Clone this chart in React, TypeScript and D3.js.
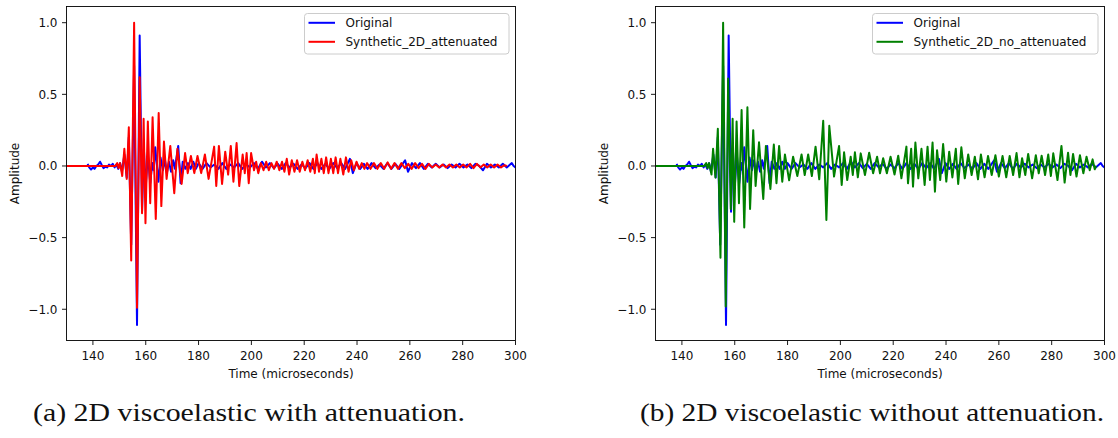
import React from "react";
import * as d3 from "d3";

// ---------- data (time in microseconds, normalized amplitude) ----------
const xTicks = [140, 160, 180, 200, 220, 240, 260, 280, 300];
const yTicks = [-1.0, -0.5, 0.0, 0.5, 1.0];
const yTickLabels = ["\u22121.0", "\u22120.5", "0.0", "0.5", "1.0"];

const original: [number, number][] = [
  [138.0, 0.015], [138.6, -0.01], [139.3, -0.025], [140.0, -0.01], [140.6, -0.02], [141.3, 0.0],
  [142.0, 0.01], [142.7, 0.03], [143.4, 0.005], [144.0, -0.015], [144.7, -0.005], [145.4, -0.01],
  [146.1, 0.01], [146.8, 0.0], [147.5, 0.015], [148.2, -0.01], [148.9, 0.01], [149.6, -0.02],
  [150.3, 0.02], [151.0, -0.04], [151.9, 0.08], [152.8, -0.08], [153.6, 0.2], [154.5, -0.55],
  [155.6, 0.7], [156.7, -1.11], [157.7, 0.91], [158.6, -0.32], [159.3, 0.12], [160.0, -0.15],
  [160.8, 0.08], [161.7, -0.12], [162.5, 0.02], [163.0, -0.03], [163.6, 0.13], [164.8, -0.11],
  [165.6, 0.06], [166.5, -0.03], [167.3, 0.04], [168.0, -0.05], [168.8, 0.03], [169.6, -0.04],
  [170.4, 0.04], [171.0, -0.02], [172.3, 0.14], [173.2, -0.12], [174.0, 0.03], [175.0, -0.02],
  [176.0, 0.02], [177.0, -0.02], [178.0, 0.03], [179.0, -0.02], [180.0, 0.02], [181.5, -0.02],
  [183.0, 0.02], [184.5, -0.01], [186.0, 0.01], [187.5, -0.02], [189.0, 0.02], [190.5, -0.02],
  [192.0, 0.01], [193.5, -0.01], [195.0, 0.02], [196.5, -0.02], [198.0, 0.01], [199.5, -0.01],
  [201.0, 0.02], [202.5, -0.02], [204.0, 0.03], [205.5, -0.01], [207.0, 0.02], [208.5, -0.015],
  [210.0, 0.015], [211.5, -0.02], [213.0, 0.02], [214.5, -0.01], [216.0, 0.015], [217.5, -0.02],
  [219.0, 0.01], [220.5, -0.015], [222.0, 0.02], [223.5, -0.02], [225.0, 0.02], [226.5, -0.02],
  [228.0, 0.015], [229.5, -0.02], [231.0, 0.02], [232.5, -0.015], [234.0, 0.02], [235.5, -0.02],
  [237.3, 0.05], [238.4, -0.05], [239.8, 0.02], [241.2, -0.02], [242.6, 0.015], [244.0, -0.02],
  [245.5, 0.02], [247.0, -0.015], [248.5, 0.01], [250.0, -0.02], [251.5, 0.02], [253.0, -0.02],
  [254.5, 0.015], [256.0, -0.02], [258.2, 0.04], [259.3, -0.04], [260.8, 0.02], [262.3, -0.015],
  [263.8, 0.02], [265.3, -0.02], [266.8, 0.015], [268.3, -0.01], [269.8, 0.015], [271.3, -0.01],
  [272.8, 0.01], [274.3, -0.015], [275.8, 0.01], [277.3, -0.01], [278.8, 0.015], [280.3, -0.01],
  [281.8, 0.01], [283.3, -0.015], [284.8, 0.015], [286.3, 0.0], [287.7, -0.03], [289.2, 0.015],
  [290.7, -0.01], [292.2, 0.01], [293.7, -0.01], [295.2, 0.015], [296.7, -0.01], [298.6, 0.02],
  [299.3, 0.0], [300.0, -0.01],
];

const synthAttenuated: [number, number][] = [
  [130.0, 0], [148.5, 0], [149.2, 0.02], [149.7, -0.015], [150.3, 0.02], [151.1, -0.07],
  [151.9, 0.12], [152.8, -0.09], [153.6, 0.27], [154.5, -0.66], [155.6, 1.0], [156.7, -0.99],
  [157.7, 0.62], [158.6, -0.33], [159.2, 0.33], [159.9, -0.40], [160.8, 0.31], [161.7, -0.26],
  [162.6, 0.34], [163.8, -0.37], [164.9, 0.37], [165.9, -0.28], [166.9, 0.17], [167.9, -0.09],
  [169.3, 0.14], [170.8, -0.19], [172.0, 0.12], [173.6, -0.125], [174.9, 0.09], [175.9, -0.05],
  [177.1, 0.07], [178.4, -0.05], [179.6, 0.07], [181.0, -0.05], [182.4, 0.08], [183.8, -0.09],
  [185.9, 0.135], [186.7, -0.14], [187.7, 0.14], [188.9, -0.125], [190.1, 0.10], [191.2, -0.06],
  [192.2, 0.14], [193.2, -0.11], [194.4, 0.16], [195.4, -0.14], [196.7, 0.08], [197.5, -0.05],
  [198.2, 0.09], [199.0, -0.12], [199.9, 0.09], [201.0, -0.03], [201.8, 0.03], [202.6, -0.05],
  [203.6, 0.02], [204.6, -0.03], [205.6, 0.03], [206.6, -0.03], [207.6, 0.02], [208.6, -0.02],
  [209.6, 0.03], [210.6, -0.03], [211.6, 0.03], [212.5, -0.04], [213.4, 0.05], [214.3, -0.06],
  [215.3, 0.04], [216.3, -0.04], [217.3, 0.04], [218.3, -0.04], [219.3, 0.03], [220.3, -0.03],
  [221.3, 0.04], [222.3, -0.04], [223.3, 0.05], [224.0, -0.05], [224.7, 0.08], [225.6, -0.04],
  [226.5, 0.05], [227.4, -0.05], [228.3, 0.06], [229.2, -0.05], [230.1, 0.05], [231.0, -0.05],
  [231.9, 0.06], [232.8, -0.05], [233.7, 0.05], [234.8, -0.06], [235.8, 0.06], [236.8, -0.04],
  [237.8, 0.04], [238.8, -0.03], [239.8, 0.03], [240.8, -0.02], [241.8, 0.02], [242.8, -0.02],
  [243.8, 0.02], [245.1, -0.02], [246.4, 0.02], [247.7, -0.02], [249.0, 0.02], [250.3, -0.02],
  [251.6, 0.025], [252.9, -0.02], [254.2, 0.02], [255.5, -0.02], [256.8, 0.02], [258.1, -0.015],
  [259.4, 0.015], [260.7, -0.02], [262.0, 0.02], [263.3, -0.015], [264.6, 0.015], [265.9, -0.02],
  [267.2, 0.015], [268.5, -0.01], [269.8, 0.01], [271.1, -0.01], [272.4, 0.01], [273.7, -0.01],
  [275.0, 0.01], [276.3, -0.01], [277.6, 0.01], [278.9, -0.01], [280.2, 0.01], [281.5, -0.01],
  [282.8, 0.015], [284.1, -0.015], [285.4, 0.015], [286.7, -0.01], [288.0, 0.01], [289.3, -0.01],
  [290.6, 0.01], [291.9, -0.01], [293.2, 0.01], [294.5, -0.01], [295.8, 0.005], [296.7, 0.0],
];

const synthNoAttenuated: [number, number][] = [
  [130.0, 0], [148.5, 0], [149.2, 0.02], [149.7, -0.015], [150.3, 0.02], [151.2, -0.06],
  [151.8, 0.12], [152.7, -0.08], [153.6, 0.26], [154.6, -0.64], [155.6, 1.0], [156.6, -0.98],
  [157.5, 0.61], [158.5, -0.30], [159.2, 0.33], [159.8, -0.39], [160.7, 0.31], [161.6, -0.26],
  [162.6, 0.39], [163.6, -0.43], [164.8, 0.41], [165.8, -0.30], [167.0, 0.25], [167.9, -0.14],
  [169.2, 0.165], [170.8, -0.23], [171.8, 0.14], [173.5, -0.16], [174.8, 0.15], [175.8, -0.12],
  [176.8, 0.14], [178.0, -0.11], [179.0, 0.08], [180.6, -0.10], [182.1, 0.065], [183.7, -0.07],
  [185.3, 0.08], [186.5, -0.063], [187.8, 0.08], [189.2, -0.07], [190.6, 0.135], [192.0, -0.093],
  [193.5, 0.316], [194.7, -0.377], [195.8, 0.28], [197.6, -0.074], [199.5, 0.14], [200.5, -0.132],
  [201.4, 0.095], [202.6, -0.098], [203.9, 0.065], [204.7, -0.063], [205.5, 0.095], [206.6, -0.079],
  [207.7, 0.088], [209.3, -0.063], [210.9, 0.092], [212.4, -0.051], [213.9, 0.065], [215.0, -0.051],
  [216.2, 0.054], [217.6, -0.051], [219.0, 0.065], [220.5, -0.06], [221.9, 0.072], [223.1, -0.086],
  [225.0, 0.135], [225.6, -0.121], [226.8, 0.12], [227.5, -0.144], [228.4, 0.163], [229.5, -0.086],
  [230.7, 0.12], [231.9, -0.132], [233.0, 0.135], [233.9, -0.098], [234.9, 0.163], [235.8, -0.179],
  [236.6, 0.11], [237.8, -0.098], [238.9, 0.153], [240.1, -0.109], [241.2, 0.10], [242.4, -0.08],
  [243.7, 0.12], [244.6, -0.126], [245.8, 0.13], [247.1, -0.086], [248.4, 0.08], [249.7, -0.063],
  [250.9, 0.065], [252.1, -0.093], [253.2, 0.08], [254.6, -0.079], [255.9, 0.07], [257.3, -0.063],
  [258.7, 0.075], [260.0, -0.074], [261.4, 0.07], [262.8, -0.079], [264.1, 0.07], [265.4, -0.063],
  [266.7, 0.09], [267.8, -0.079], [268.8, 0.054], [270.0, -0.063], [271.1, 0.084], [272.6, -0.086],
  [274.0, 0.075], [275.1, -0.051], [276.2, 0.072], [277.5, -0.063], [278.7, 0.08], [279.7, -0.07],
  [280.6, 0.088], [282.2, -0.098], [283.7, 0.14], [284.9, -0.116], [286.2, 0.093], [287.1, -0.063],
  [288.1, 0.084], [289.4, -0.074], [290.7, 0.075], [292.0, -0.051], [293.2, 0.065], [294.4, -0.03],
  [295.5, 0.046], [296.3, -0.023], [296.8, 0.0],
];

const panels = [
  {
    left: 66.5, right: 515.5,
    synth: synthAttenuated, color: "#ff0000", label: "Synthetic_2D_attenuated",
    legendX: 304.5, legendW: 204.5,
    caption: "(a) 2D viscoelastic with attenuation.", captionX: 249, captionW: 432,
  },
  {
    left: 655.5, right: 1104.5,
    synth: synthNoAttenuated, color: "#008000", label: "Synthetic_2D_no_attenuated",
    legendX: 872.5, legendW: 225.5,
    caption: "(b) 2D viscoelastic without attenuation.", captionX: 872, captionW: 464,
  },
];

const TOP = 6.5;
const BOTTOM = 340.5;
const SANS = "'DejaVu Sans', sans-serif";
const FS = 12;

function Panel({ p, idx }: { p: (typeof panels)[number]; idx: number }) {
  const x = d3.scaleLinear().domain([130, 300]).range([p.left, p.right]);
  const y = d3.scaleLinear().domain([-1.218, 1.113]).range([BOTTOM, TOP]);
  const line = d3
    .line<[number, number]>()
    .x((d) => x(d[0]))
    .y((d) => y(d[1]));
  const clipId = `clip${idx}`;
  const midX = (p.left + p.right) / 2;
  const lx = p.legendX;
  return (
    <g>
      <defs>
        <clipPath id={clipId}>
          <rect x={p.left} y={TOP} width={p.right - p.left} height={BOTTOM - TOP} />
        </clipPath>
      </defs>
      <g clipPath={`url(#${clipId})`}>
        <path d={line(original) || ""} fill="none" stroke="#0000ff" strokeWidth={2} strokeLinejoin="round" />
        <path d={line(p.synth) || ""} fill="none" stroke={p.color} strokeWidth={2} strokeLinejoin="round" />
      </g>
      <rect x={p.left} y={TOP} width={p.right - p.left} height={BOTTOM - TOP} fill="none" stroke="#000" strokeWidth={0.9} />
      {xTicks.map((t) => (
        <g key={t}>
          <line x1={x(t)} x2={x(t)} y1={BOTTOM} y2={BOTTOM + 4.5} stroke="#000" strokeWidth={0.9} />
          <text x={x(t)} y={360} textAnchor="middle" fontFamily={SANS} fontSize={FS} fill="#111">
            {t}
          </text>
        </g>
      ))}
      {yTicks.map((t, i) => (
        <g key={t}>
          <line x1={p.left - 4.5} x2={p.left} y1={y(t)} y2={y(t)} stroke="#000" strokeWidth={0.9} />
          <text x={p.left - 9} y={y(t) + 4.3} textAnchor="end" fontFamily={SANS} fontSize={FS} fill="#111">
            {yTickLabels[i]}
          </text>
        </g>
      ))}
      <text x={midX} y={378} textAnchor="middle" fontFamily={SANS} fontSize={FS} fill="#111">
        Time (microseconds)
      </text>
      <text
        transform={`translate(${p.left - 47.5},${(TOP + BOTTOM) / 2}) rotate(-90)`}
        textAnchor="middle"
        fontFamily={SANS}
        fontSize={FS}
        fill="#111"
      >
        Amplitude
      </text>
      {/* legend */}
      <rect x={lx} y={13.5} width={p.legendW} height={40.5} rx={3} fill="#fff" fillOpacity={0.8} stroke="#cccccc" strokeWidth={1} />
      <line x1={lx + 4} x2={lx + 30.5} y1={22.8} y2={22.8} stroke="#0000ff" strokeWidth={2} />
      <line x1={lx + 4} x2={lx + 30.5} y1={41.8} y2={41.8} stroke={p.color} strokeWidth={2} />
      <text x={lx + 41} y={27} fontFamily={SANS} fontSize={FS} fill="#111">Original</text>
      <text x={lx + 41} y={46} fontFamily={SANS} fontSize={FS} fill="#111">{p.label}</text>
      {/* caption */}
      <text
        x={p.captionX}
        y={421}
        textAnchor="middle"
        fontFamily="'Liberation Serif', 'DejaVu Serif', serif"
        fontSize={25}
        fill="#111"
        textLength={p.captionW}
        lengthAdjust="spacingAndGlyphs"
      >
        {p.caption}
      </text>
    </g>
  );
}

export default function App() {
  return (
    <svg
      width={1118}
      height={438}
      style={{ position: "absolute", left: 0, top: 0, background: "#fff" }}
    >
      <rect width={1118} height={438} fill="#fff" />
      {panels.map((p, i) => (
        <Panel key={i} p={p} idx={i} />
      ))}
    </svg>
  );
}
